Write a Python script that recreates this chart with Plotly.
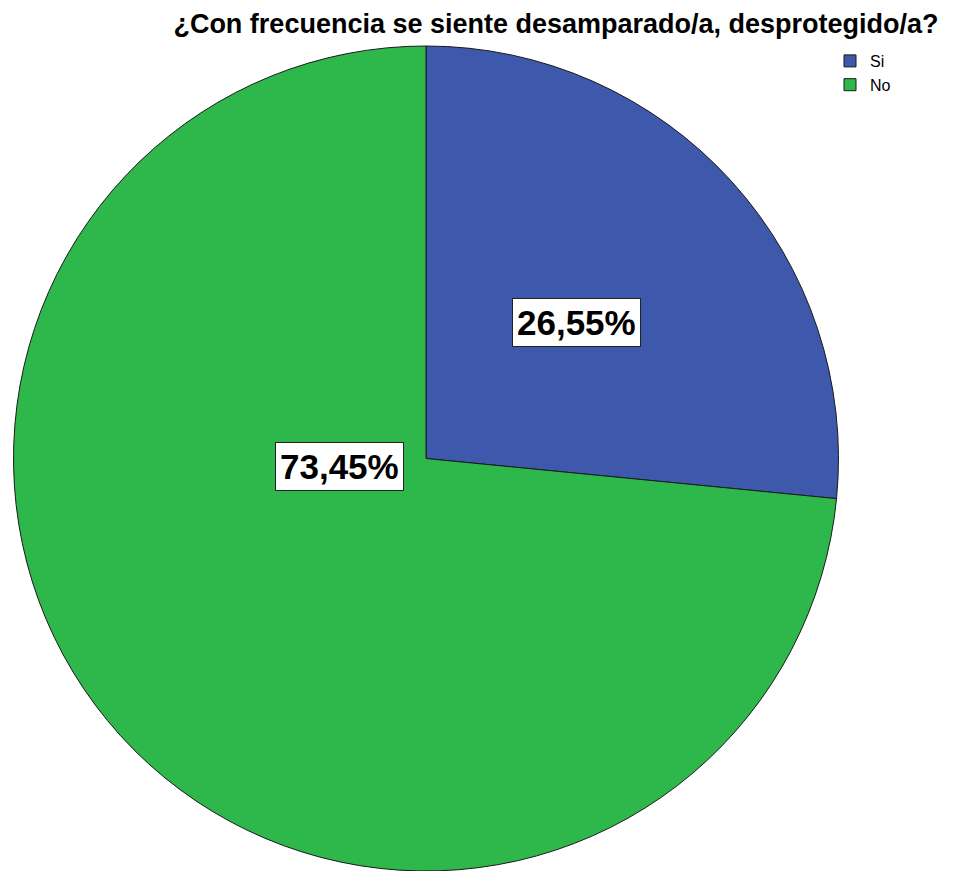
import plotly.graph_objects as go

categorias = ["Si", "No"]
porcentajes = [26.55, 73.45]
colores = ["#3e58ac", "#2eb84b"]
etiquetas = ["26,55%", "73,45%"]

# la página añade 8 px de margen al body; el lienzo se reduce para compensar
W, H = 964, 863
OFF = 8
fuente = "Liberation Sans, Arial, sans-serif"


def px_x(v):
    return (v - OFF) / W


def px_y(v):
    return 1 - (v - OFF) / H


fig = go.Figure(go.Pie(
    labels=categorias,
    values=porcentajes,
    sort=False,
    direction="clockwise",
    rotation=0,
    marker=dict(colors=colores, line=dict(color="#1a1a1a", width=1)),
    textinfo="none",
    hoverinfo="label+percent",
    domain=dict(x=[px_x(11), px_x(841)], y=[0, px_y(46)]),
))

# posiciones de las etiquetas (px de pantalla)
pos_etiquetas = [(576, 323), (275, 466)]
for txt, (px, py) in zip(etiquetas, pos_etiquetas):
    fig.add_annotation(
        x=px_x(px), y=px_y(py), xref="paper", yref="paper",
        text="<b>%s</b>" % txt, showarrow=False,
        font=dict(family=fuente, size=35, color="black"),
        bgcolor="white", bordercolor="#222", borderwidth=1, borderpad=4,
    )

fig.update_layout(
    width=W, height=H,
    margin=dict(l=0, r=0, t=0, b=0),
    paper_bgcolor="white",
    plot_bgcolor="white",
    title=dict(
        text="<b>¿Con frecuencia se siente desamparado/a, desprotegido/a?</b>",
        x=px_x(556), xanchor="center", y=px_y(24), yanchor="middle",
        font=dict(family=fuente, size=27, color="black"),
    ),
    legend=dict(
        x=px_x(830), y=px_y(44), xanchor="left", yanchor="top",
        font=dict(family=fuente, size=16, color="black"),
        itemwidth=30, tracegroupgap=0,
        bgcolor="rgba(0,0,0,0)",
    ),
)

fig.write_html("out.html")
